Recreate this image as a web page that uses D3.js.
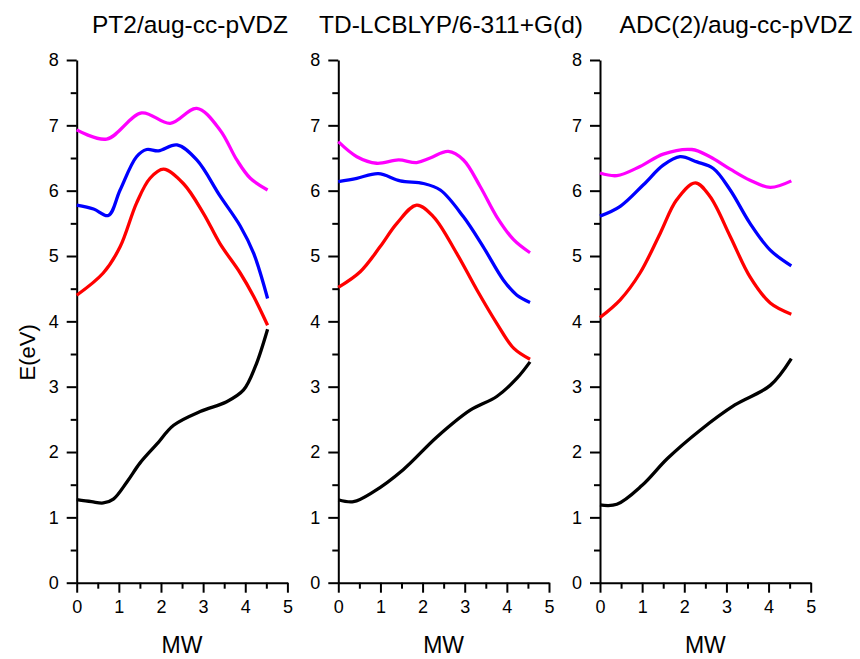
<!DOCTYPE html>
<html>
<head>
<meta charset="utf-8">
<script src="https://cdn.jsdelivr.net/npm/d3@7"></script>
<style>
  body { margin: 0; background: #fff; }
  svg { display: block; font-family: Arial, "Liberation Sans", sans-serif; }
</style>
</head>
<body>
<div id="vis-holder"></div>
<script>
// chart size
const width = 860;
const height = 659;

// panel titles
const titles = ["PT2/aug-cc-pVDZ", "TD-LCBLYP/6-311+G(d)", "ADC(2)/aug-cc-pVDZ"];

// ticks
const xTicks = [0, 1, 2, 3, 4, 5];
const yTicks = [0, 1, 2, 3, 4, 5, 6, 7, 8];

// PT2 curves [MW, E]
const pt2Black = [[0,1.27],[0.35,1.24],[0.63,1.22],[0.87,1.28],[1.2,1.55],[1.5,1.83],[1.9,2.12],[2.3,2.41],[2.93,2.62],[3.56,2.77],[3.96,2.95],[4.24,3.31],[4.53,3.88]];
const pt2Red = [[0,4.40],[0.63,4.74],[1.03,5.14],[1.42,5.81],[1.74,6.19],[2.06,6.33],[2.53,6.11],[3.01,5.65],[3.4,5.19],[3.88,4.74],[4.2,4.38],[4.53,3.94]];
const pt2Blue = [[0,5.78],[0.4,5.72],[0.75,5.62],[1.03,6.01],[1.42,6.52],[1.66,6.63],[1.94,6.61],[2.38,6.70],[2.85,6.47],[3.4,5.92],[3.88,5.46],[4.2,5.04],[4.53,4.35]];
const pt2Magenta = [[0,6.93],[0.71,6.79],[1.54,7.19],[2.22,7.03],[2.85,7.26],[3.4,6.93],[3.8,6.47],[4.12,6.19],[4.53,6.01]];

// TD-LCBLYP curves [MW, E]
const lcBlack = [[0,1.27],[0.36,1.24],[0.83,1.39],[1.54,1.73],[2.34,2.23],[3.13,2.64],[3.76,2.85],[4.24,3.13],[4.55,3.38]];
const lcRed = [[0,4.52],[0.52,4.76],[0.99,5.14],[1.39,5.50],[1.86,5.78],[2.26,5.60],[2.81,5.04],[3.29,4.48],[3.76,3.97],[4.16,3.59],[4.55,3.42]];
const lcBlue = [[0,6.14],[0.44,6.19],[0.95,6.26],[1.47,6.15],[2.02,6.11],[2.42,6.01],[2.97,5.60],[3.44,5.14],[3.92,4.63],[4.24,4.40],[4.55,4.29]];
const lcMagenta = [[0,6.75],[0.44,6.52],[0.91,6.42],[1.43,6.47],[1.86,6.43],[2.18,6.50],[2.61,6.60],[2.97,6.47],[3.37,6.06],[3.76,5.60],[4.16,5.25],[4.55,5.05]];

// ADC(2) curves [MW, E]
const adcBlack = [[0,1.19],[0.4,1.20],[1.0,1.49],[1.6,1.90],[2.37,2.33],[3.2,2.72],[4.04,3.02],[4.54,3.43]];
const adcRed = [[0,4.06],[0.48,4.33],[0.95,4.74],[1.43,5.35],[1.82,5.86],[2.26,6.12],[2.61,5.91],[3.09,5.30],[3.56,4.68],[4.04,4.28],[4.54,4.11]];
const adcBlue = [[0,5.61],[0.48,5.76],[1.03,6.09],[1.5,6.39],[1.9,6.52],[2.3,6.44],[2.69,6.34],[3.09,6.01],[3.56,5.50],[4.04,5.09],[4.54,4.85]];
const adcMagenta = [[0,6.27],[0.4,6.23],[0.95,6.37],[1.5,6.56],[2.18,6.63],[2.61,6.52],[3.09,6.33],[3.56,6.16],[4.04,6.05],[4.54,6.15]];

const seriesColors = ["#000000", "#ff0000", "#0000ff", "#ff00ff"];
const panelData = [
  [pt2Black, pt2Red, pt2Blue, pt2Magenta],
  [lcBlack, lcRed, lcBlue, lcMagenta],
  [adcBlack, adcRed, adcBlue, adcMagenta]
];

// layout of the three panels
const panelLeft = [76.7, 338.3, 600];
const panelWidth = 210.7;
const titleX = [190, 451, 736];
const yTop = 60, yBottom = 582.7;
const fontFamily = "Arial, 'Liberation Sans', sans-serif";

const svg = d3.select("#vis-holder")
  .append("svg")
  .attr("width", width)
  .attr("height", height);

const y = d3.scaleLinear().domain([0, 8]).range([yBottom, yTop]);

// y axis label
svg.append("text")
  .attr("transform", `translate(35,${(yTop + yBottom) / 2 + 31}) rotate(-90)`)
  .attr("text-anchor", "middle")
  .attr("font-size", "22px")
  .text("E(eV)");

panelData.forEach((series, p) => {
  const x = d3.scaleLinear().domain([0, 5]).range([panelLeft[p], panelLeft[p] + panelWidth]);
  const g = svg.append("g");

  // minor ticks
  g.append("g")
    .attr("transform", `translate(0,${yBottom})`)
    .call(d3.axisBottom(x).tickValues(d3.range(0.5, 5, 1)).tickSize(6).tickFormat(""))
    .call(a => a.select(".domain").remove())
    .selectAll("line").attr("stroke-width", 2);
  g.append("g")
    .attr("transform", `translate(${panelLeft[p]},0)`)
    .call(d3.axisLeft(y).tickValues(d3.range(0.5, 8, 1)).tickSize(6).tickFormat(""))
    .call(a => a.select(".domain").remove())
    .selectAll("line").attr("stroke-width", 2);

  // x axis
  const xa = g.append("g")
    .attr("transform", `translate(0,${yBottom})`)
    .call(d3.axisBottom(x).tickValues(xTicks).tickFormat(d3.format("d")).tickSize(10).tickSizeOuter(0).tickPadding(8));
  xa.select(".domain").attr("stroke-width", 2);
  xa.selectAll("line").attr("stroke-width", 2);
  xa.selectAll("text").attr("font-size", "18px").attr("font-family", fontFamily);

  // y axis
  const ya = g.append("g")
    .attr("transform", `translate(${panelLeft[p]},0)`)
    .call(d3.axisLeft(y).tickValues(yTicks).tickFormat(d3.format("d")).tickSize(10).tickSizeOuter(0).tickPadding(8));
  ya.select(".domain").attr("stroke-width", 2);
  ya.selectAll("line").attr("stroke-width", 2);
  ya.selectAll("text").attr("font-size", "18px").attr("font-family", fontFamily);

  // title
  g.append("text")
    .attr("x", titleX[p])
    .attr("y", 33)
    .attr("text-anchor", "middle")
    .attr("font-size", "24.5px")
    .text(titles[p]);

  // x label
  g.append("text")
    .attr("x", panelLeft[p] + panelWidth / 2)
    .attr("y", 653)
    .attr("text-anchor", "middle")
    .attr("font-size", "23px")
    .text("MW");

  const line = d3.line()
    .x(d => x(d[0]))
    .y(d => y(d[1]))
    .curve(d3.curveCatmullRom.alpha(0.5));

  g.selectAll("path.curve")
    .data(series)
    .enter()
    .append("path")
      .attr("class", "curve")
      .attr("d", line)
      .attr("fill", "none")
      .attr("stroke", (d, i) => seriesColors[i])
      .attr("stroke-width", 3.3)
      .attr("stroke-linejoin", "round");
});
</script>
</body>
</html>
